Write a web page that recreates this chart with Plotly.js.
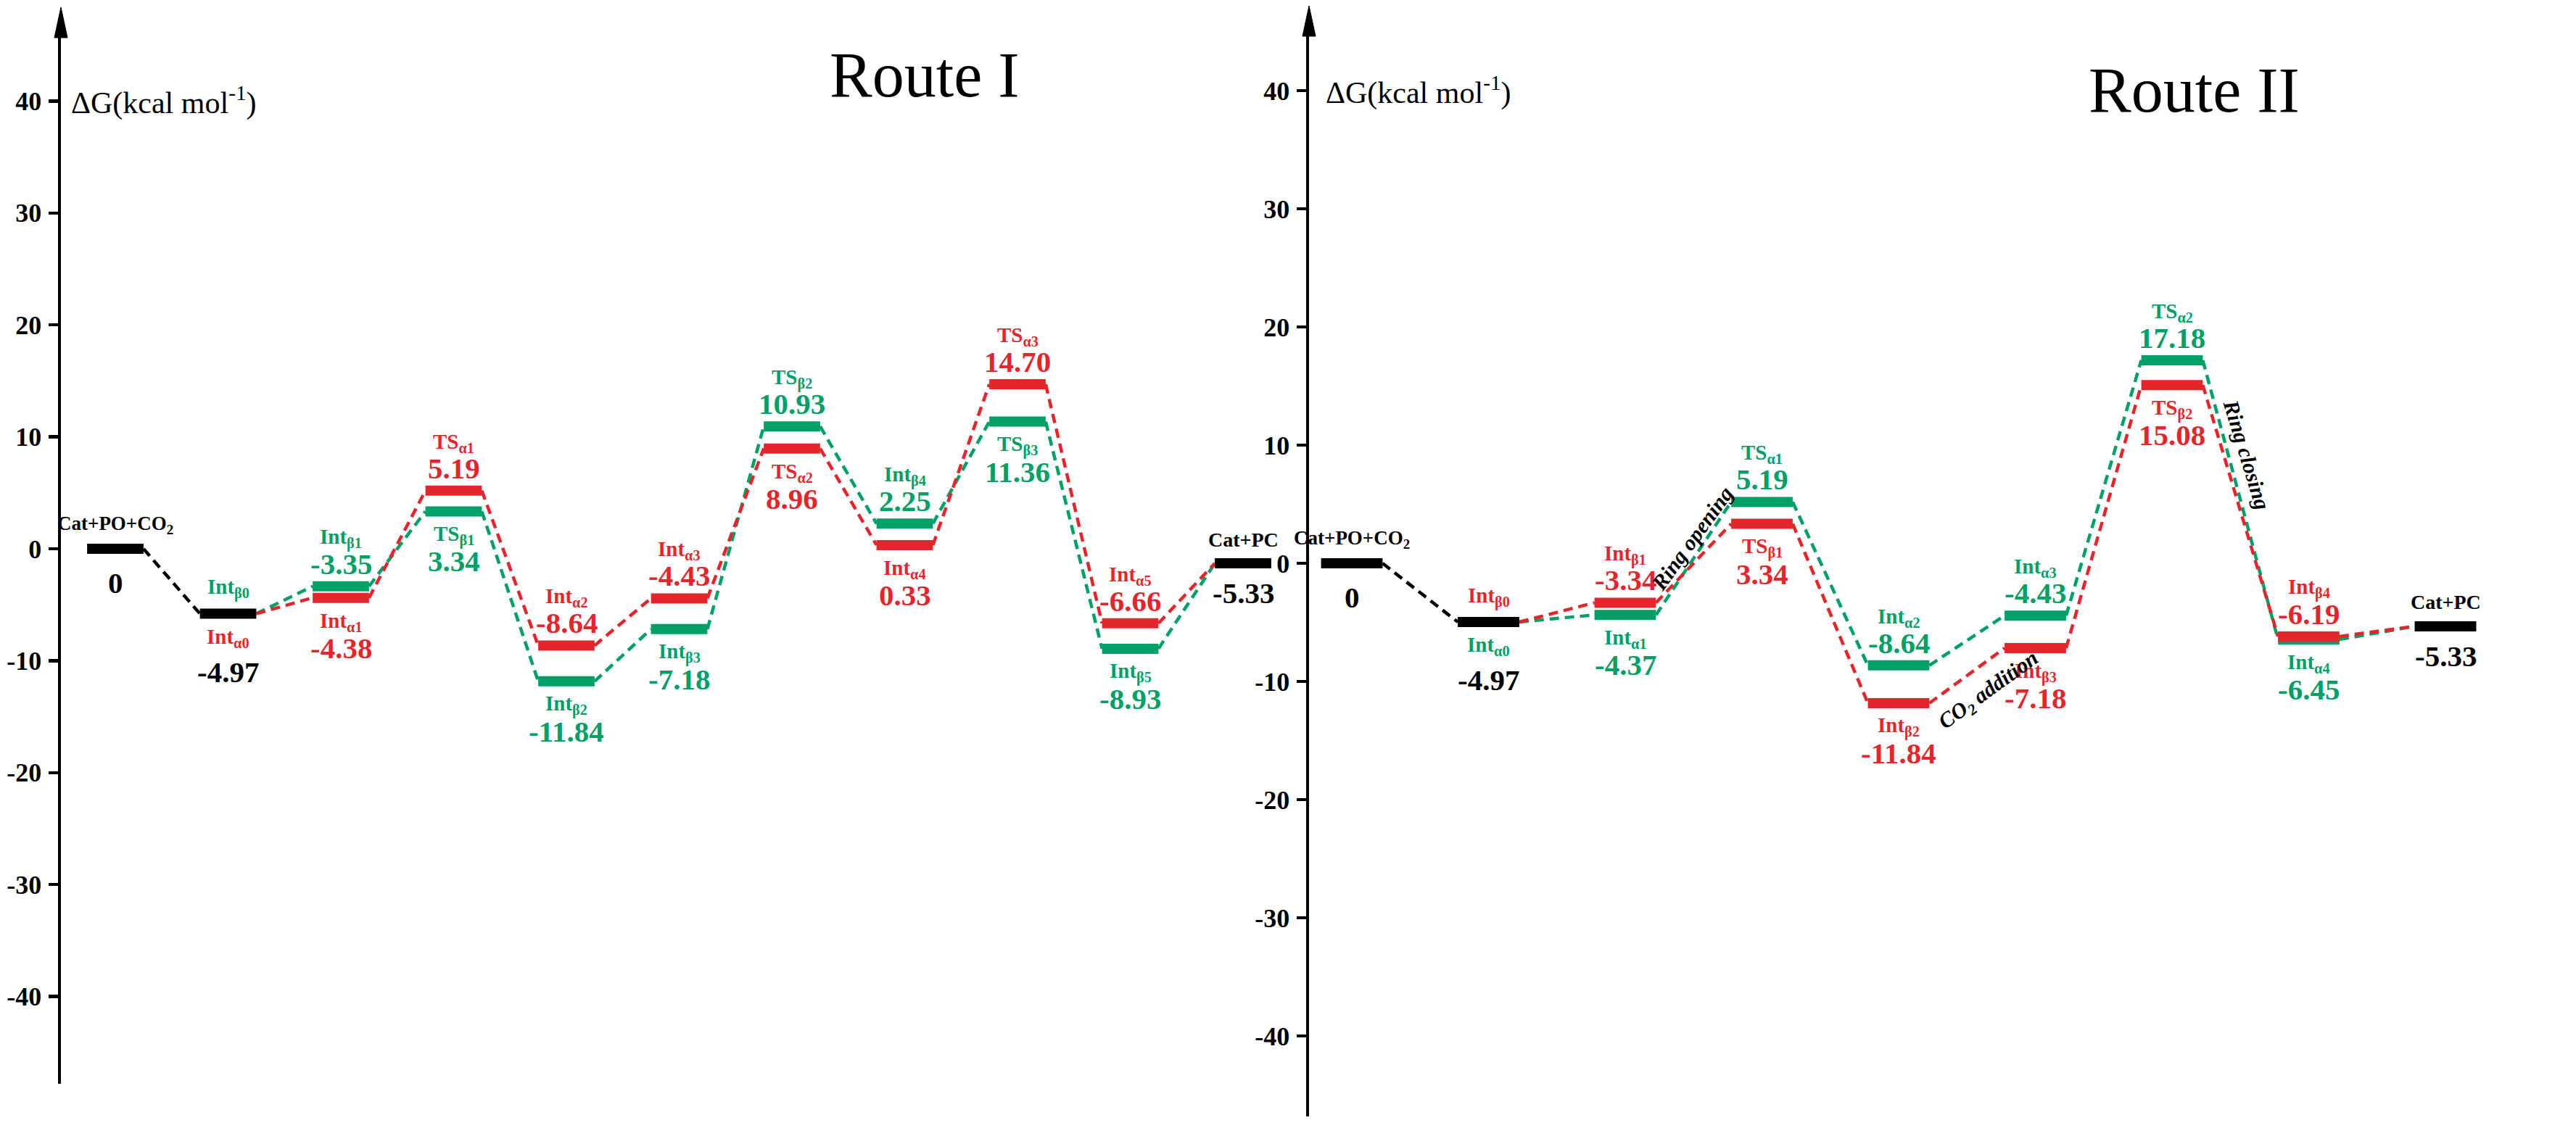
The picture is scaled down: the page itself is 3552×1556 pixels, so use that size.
<!DOCTYPE html>
<html>
<head>
<meta charset="utf-8">
<script src="https://cdn.plot.ly/plotly-3.0.1.min.js"></script>
<style>html,body{margin:0;padding:0;background:#fff}#chart{width:3552px;height:1556px}</style>
</head>
<body>
<div id="chart"></div>
<script>
// ---------------- DATA ----------------
const tickVals = [40, 30, 20, 10, 0, -10, -20, -30, -40];
const tickText = ['40', '30', '20', '10', '0', '-10', '-20', '-30', '-40'];

// Route I  (red = alpha, green = beta); index = reaction step
const r1Names = ['Cat+PO+CO<sub>2</sub>', 'Int0', 'Int1', 'TS1', 'Int2', 'Int3', 'TS2', 'Int4', 'TS3', 'Int5', 'Cat+PC'];
const r1RedLabel = ['', 'Int<sub>α0</sub>', 'Int<sub>α1</sub>', 'TS<sub>α1</sub>', 'Int<sub>α2</sub>', 'Int<sub>α3</sub>', 'TS<sub>α2</sub>', 'Int<sub>α4</sub>', 'TS<sub>α3</sub>', 'Int<sub>α5</sub>', ''];
const r1GreenLabel = ['', 'Int<sub>β0</sub>', 'Int<sub>β1</sub>', 'TS<sub>β1</sub>', 'Int<sub>β2</sub>', 'Int<sub>β3</sub>', 'TS<sub>β2</sub>', 'Int<sub>β4</sub>', 'TS<sub>β3</sub>', 'Int<sub>β5</sub>', ''];
const r1RedText = ['0', '-4.97', '-4.38', '5.19', '-8.64', '-4.43', '8.96', '0.33', '14.70', '-6.66', '-5.33'];
const r1GreenText = ['0', '-4.97', '-3.35', '3.34', '-11.84', '-7.18', '10.93', '2.25', '11.36', '-8.93', '-5.33'];
// bar heights as drawn in the picture
const r1RedLevel = [0, -5.8, -4.38, 5.19, -8.64, -4.43, 8.96, 0.33, 14.70, -6.66, -1.3];
const r1GreenLevel = [0, -5.8, -3.35, 3.34, -11.84, -7.18, 10.93, 2.25, 11.36, -8.93, -1.3];

// Route II (green = alpha, red = beta)
const r2Names = ['Cat+PO+CO<sub>2</sub>', 'Int0', 'Int1', 'TS1', 'Int2', 'Int3', 'TS2', 'Int4', 'Cat+PC'];
const r2RedLabel = ['', 'Int<sub>β0</sub>', 'Int<sub>β1</sub>', 'TS<sub>β1</sub>', 'Int<sub>β2</sub>', 'Int<sub>β3</sub>', 'TS<sub>β2</sub>', 'Int<sub>β4</sub>', ''];
const r2GreenLabel = ['', 'Int<sub>α0</sub>', 'Int<sub>α1</sub>', 'TS<sub>α1</sub>', 'Int<sub>α2</sub>', 'Int<sub>α3</sub>', 'TS<sub>α2</sub>', 'Int<sub>α4</sub>', ''];
const r2RedText = ['0', '-4.97', '-3.34', '3.34', '-11.84', '-7.18', '15.08', '-6.19', '-5.33'];
const r2GreenText = ['0', '-4.97', '-4.37', '5.19', '-8.64', '-4.43', '17.18', '-6.45', '-5.33'];
const r2RedLevel = [0, -4.97, -3.34, 3.34, -11.84, -7.18, 15.08, -6.19, -5.33];
const r2GreenLevel = [0, -4.97, -4.37, 5.19, -8.64, -4.43, 17.18, -6.45, -5.33];

const r2Notes = ['<i>Ring opening</i>', '<i>CO<sub>2</sub> addition</i>', '<i>Ring closing</i>'];
const routeTitles = ['Route I', 'Route II'];
const yLabel = 'ΔG(kcal mol<sup>-1</sup>)';

// ---------------- STYLE ----------------
const RED = '#e4262c', GREEN = '#00a066', BLACK = '#000000';
const SERIF = 'Liberation Serif, Times New Roman, serif';
const W = 3552, H = 1556;
const BAR_W = 14, DASH_W = 4.5;
const NAME_SIZE = 29, VALUE_SIZE = 41, END_SIZE = 27;

function bars(levels, idx, hw) {
  const x = [], y = [];
  idx.forEach(i => { x.push(i - hw, i + hw, null); y.push(levels[i], levels[i], null); });
  return {x, y};
}
function links(levels, from, to, hw) {
  const x = [], y = [];
  for (let i = from; i < to; i++) { x.push(i + hw, i + 1 - hw, null); y.push(levels[i], levels[i + 1], null); }
  return {x, y};
}
function range(a, b) { const r = []; for (let i = a; i <= b; i++) r.push(i); return r; }

const traces = [];
const annotations = [];

function buildRoute(ax, ay, names, redLvl, greenLvl, redLbl, greenLbl, redTxt, greenTxt, hw, zeroAboveColor, zeroBelowColor, zeroAbove, zeroBelow) {
  const n = redLvl.length;
  const mid = range(2, n - 2);
  const addLine = (d, color, dash, width) => traces.push({x: d.x, y: d.y, xaxis: ax, yaxis: ay, mode: 'lines', hoverinfo: 'skip', showlegend: false, line: {color, width, dash}});
  addLine(links(greenLvl, 1, n - 1, hw), GREEN, '13px,8px', DASH_W);
  addLine(links(redLvl, 1, n - 1, hw), RED, '13px,8px', DASH_W);
  addLine(links(redLvl, 0, 1, hw), BLACK, '13px,8px', DASH_W);
  addLine(bars(greenLvl, mid, hw), GREEN, 'solid', BAR_W);
  addLine(bars(redLvl, mid, hw), RED, 'solid', BAR_W);
  addLine(bars(redLvl, [0, 1, n - 1], hw), BLACK, 'solid', BAR_W);

  const ann = (i, lvl, text, color, size, shift) => annotations.push({xref: ax, yref: ay, x: i, y: lvl, text, showarrow: false, yshift: shift, xanchor: 'center', yanchor: 'middle', font: {family: SERIF, size, color, weight: 'bold'}});
  mid.forEach(i => {
    const rUp = redLvl[i] >= greenLvl[i];
    const up = rUp ? [redLvl[i], redLbl[i], redTxt[i], RED] : [greenLvl[i], greenLbl[i], greenTxt[i], GREEN];
    const dn = rUp ? [greenLvl[i], greenLbl[i], greenTxt[i], GREEN] : [redLvl[i], redLbl[i], redTxt[i], RED];
    ann(i, up[0], up[1], up[3], NAME_SIZE, 66);
    ann(i, up[0], up[2], up[3], VALUE_SIZE, 31);
    ann(i, dn[0], dn[1], dn[3], NAME_SIZE, -33);
    ann(i, dn[0], dn[2], dn[3], VALUE_SIZE, -69);
  });
  ann(0, redLvl[0], names[0], BLACK, END_SIZE, 33);
  ann(0, redLvl[0], redTxt[0], BLACK, VALUE_SIZE, -47);
  ann(1, redLvl[1], zeroAbove, zeroAboveColor, NAME_SIZE, 35);
  ann(1, redLvl[1], zeroBelow, zeroBelowColor, NAME_SIZE, -33);
  ann(1, redLvl[1], redTxt[1], BLACK, VALUE_SIZE, -80);
  ann(n - 1, redLvl[n - 1], names[n - 1], BLACK, END_SIZE + 1, 33);
  ann(n - 1, redLvl[n - 1], redTxt[n - 1], BLACK, VALUE_SIZE, -41);
}

const HW1 = 0.25, HW2 = 0.225;
buildRoute('x', 'y', r1Names, r1RedLevel, r1GreenLevel, r1RedLabel, r1GreenLabel, r1RedText, r1GreenText, HW1, GREEN, RED, r1GreenLabel[1], r1RedLabel[1]);
buildRoute('x2', 'y2', r2Names, r2RedLevel, r2GreenLevel, r2RedLabel, r2GreenLabel, r2RedText, r2GreenText, HW2, RED, GREEN, r2RedLabel[1], r2GreenLabel[1]);

// step annotations in route II
const noteFont = {family: SERIF, size: 30, color: BLACK, weight: 'bold'};
annotations.push({xref: 'x2', yref: 'y2', x: 2.49, y: 2.1, text: r2Notes[0], showarrow: false, textangle: -54, font: noteFont});
annotations.push({xref: 'x2', yref: 'y2', x: 4.66, y: -10.8, text: r2Notes[1], showarrow: false, textangle: -36, font: noteFont});
annotations.push({xref: 'x2', yref: 'y2', x: 6.55, y: 9.2, text: r2Notes[2], showarrow: false, textangle: 73, font: noteFont});

// titles and axis labels
annotations.push({xref: 'paper', yref: 'paper', x: 1275 / W, y: 1 - 104 / H, text: routeTitles[0], showarrow: false, xanchor: 'center', yanchor: 'middle', font: {family: SERIF, size: 88, color: BLACK}});
annotations.push({xref: 'paper', yref: 'paper', x: 3025 / W, y: 1 - 124 / H, text: routeTitles[1], showarrow: false, xanchor: 'center', yanchor: 'middle', font: {family: SERIF, size: 88, color: BLACK}});
annotations.push({xref: 'paper', yref: 'y', x: 96 / W, y: 40, text: yLabel, showarrow: false, xanchor: 'left', yanchor: 'middle', font: {family: SERIF, size: 42, color: BLACK}});
annotations.push({xref: 'paper', yref: 'y2', x: 1826 / W, y: 40, text: yLabel, showarrow: false, xanchor: 'left', yanchor: 'middle', font: {family: SERIF, size: 42, color: BLACK}});

// axis geometry (pixels)
const L = {axX: 84, top: 44, bot: 1495, zero: 757, ppu: 15.44, x0: 159, step: 155.5, right: 1790};
const R = {axX: 1805, top: 42, bot: 1540, zero: 777, ppu: 16.3, x0: 1864, step: 188.5, right: 3552};
function yAxisFor(g, anchor) {
  return {
    anchor, domain: [1 - g.bot / H, 1 - g.top / H],
    range: [(g.zero - g.bot) / g.ppu, (g.zero - g.top) / g.ppu],
    showline: true, linewidth: 4.5, linecolor: BLACK, ticks: 'outside', ticklen: 13, tickwidth: 4.5, tickcolor: BLACK,
    tickvals: tickVals, ticktext: tickText.map(t => '<b>' + t + '</b>'), showgrid: false, zeroline: false, ticklabelstandoff: 2,
    tickfont: {family: SERIF, size: 36, color: BLACK, weight: 'bold'}, fixedrange: true
  };
}
function xAxisFor(g, anchor) {
  return {
    anchor, domain: [g.axX / W, g.right / W],
    range: [(g.axX - g.x0) / g.step, (g.right - g.x0) / g.step],
    visible: false, showgrid: false, zeroline: false, fixedrange: true
  };
}
function arrow(g) {
  const px = v => v / W, py = v => 1 - v / H;
  return {type: 'path', xref: 'paper', yref: 'paper', fillcolor: BLACK, line: {color: BLACK, width: 1},
    path: `M ${px(g.axX)} ${py(g.top - 34)} L ${px(g.axX - 9)} ${py(g.top + 8)} L ${px(g.axX + 9)} ${py(g.top + 8)} Z`};
}

const layout = {
  width: W, height: H, margin: {l: 0, r: 0, t: 0, b: 0}, paper_bgcolor: '#ffffff', plot_bgcolor: 'rgba(0,0,0,0)',
  showlegend: false,
  xaxis: xAxisFor(L, 'y'), yaxis: yAxisFor(L, 'x'),
  xaxis2: xAxisFor(R, 'y2'), yaxis2: yAxisFor(R, 'x2'),
  shapes: [arrow(L), arrow(R)],
  annotations
};

Plotly.newPlot('chart', traces, layout, {displayModeBar: false, staticPlot: true});
</script>
</body>
</html>
